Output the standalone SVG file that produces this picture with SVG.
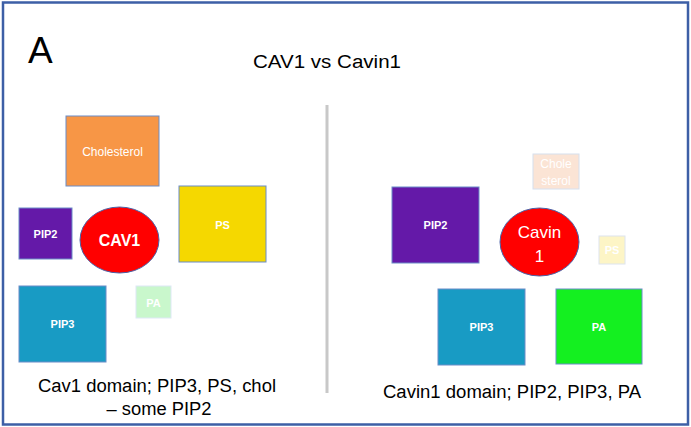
<svg xmlns="http://www.w3.org/2000/svg" width="691" height="427" viewBox="0 0 691 427">
<style>
.box{stroke:#6a8cc7;stroke-width:1}
.lbl{font-family:"Liberation Sans",Arial,sans-serif;fill:#fff;text-anchor:middle;font-weight:bold}
.lbn{font-family:"Liberation Sans",Arial,sans-serif;fill:#fff;text-anchor:middle;font-weight:normal}
.cap{font-family:"Liberation Sans",Arial,sans-serif;fill:#000;text-anchor:middle}
</style>
<rect x="0" y="0" width="691" height="427" fill="#fff"/>
<rect x="3" y="2.5" width="685" height="422" fill="none" stroke="#3d5fa6" stroke-width="2.5"/>
<text x="28" y="63" font-family="Liberation Sans,Arial,sans-serif" font-size="37" fill="#000">A</text>
<text class="cap" x="327" y="68" font-size="18" textLength="148" lengthAdjust="spacingAndGlyphs">CAV1 vs Cavin1</text>
<line x1="327" y1="105" x2="327" y2="393" stroke="#c8c8c8" stroke-width="3"/>
<g id="connectors"/>
<g id="left-cholesterol"><rect class="box" x="66" y="116" width="93" height="70" fill="#f79646"/><text class="lbn" x="112.5" y="156" font-size="12">Cholesterol</text></g>
<g id="left-pip2"><rect class="box" x="19" y="208" width="53" height="51" fill="#6419a8"/><text class="lbl" x="45.5" y="238" font-size="11">PIP2</text></g>
<g id="left-cav1"><ellipse cx="119.5" cy="240" rx="39.5" ry="33" fill="#ff0000" stroke="#4a62a8" stroke-width="1"/><text class="lbl" x="119.5" y="246" font-size="16">CAV1</text></g>
<g id="left-ps"><rect class="box" x="179" y="186" width="87" height="76" fill="#f5d800"/><text class="lbl" x="222.5" y="229" font-size="11">PS</text></g>
<g id="left-pip3"><rect class="box" x="19" y="286" width="87" height="76" fill="#189bc4"/><text class="lbl" x="62.5" y="328" font-size="11">PIP3</text></g>
<g id="left-pa"><rect x="136" y="286" width="35" height="32" fill="#c9f7cc" stroke="#dde8f5" stroke-width="1"/><text class="lbl" x="153.5" y="307" font-size="11">PA</text></g>
<text class="cap" x="157" y="392" font-size="18" textLength="238" lengthAdjust="spacingAndGlyphs">Cav1 domain; PIP3, PS, chol</text>
<text class="cap" x="159" y="415" font-size="18" textLength="105" lengthAdjust="spacingAndGlyphs">– some PIP2</text>
<g id="right-pip2"><rect class="box" x="392" y="187" width="87" height="76" fill="#6419a8"/><text class="lbl" x="435.5" y="229" font-size="11">PIP2</text></g>
<g id="right-cholesterol"><rect x="533" y="154" width="46" height="35" fill="#fbe4d5" stroke="#d6e0ee" stroke-width="1"/><text class="lbn" x="556" y="168" font-size="12">Chole</text><text class="lbn" x="556" y="185" font-size="12">sterol</text></g>
<g id="right-cavin1"><ellipse cx="539.5" cy="242" rx="39.5" ry="34" fill="#ff0000" stroke="#4a62a8" stroke-width="1"/><text class="lbn" x="539.5" y="238" font-size="17">Cavin</text><text class="lbn" x="539.5" y="262" font-size="17">1</text></g>
<g id="right-ps"><rect x="599" y="236" width="26" height="28" fill="#fdf5c6" stroke="#dde4ee" stroke-width="1"/><text class="lbl" x="612" y="254" font-size="11">PS</text></g>
<g id="right-pip3"><rect class="box" x="438" y="289" width="87" height="76" fill="#189bc4"/><text class="lbl" x="481.5" y="331" font-size="11">PIP3</text></g>
<g id="right-pa"><rect class="box" x="556" y="289" width="86" height="75" fill="#14f020"/><text class="lbl" x="599" y="331" font-size="11">PA</text></g>
<text class="cap" x="512" y="398" font-size="18" textLength="258" lengthAdjust="spacingAndGlyphs">Cavin1 domain; PIP2, PIP3, PA</text>
</svg>
